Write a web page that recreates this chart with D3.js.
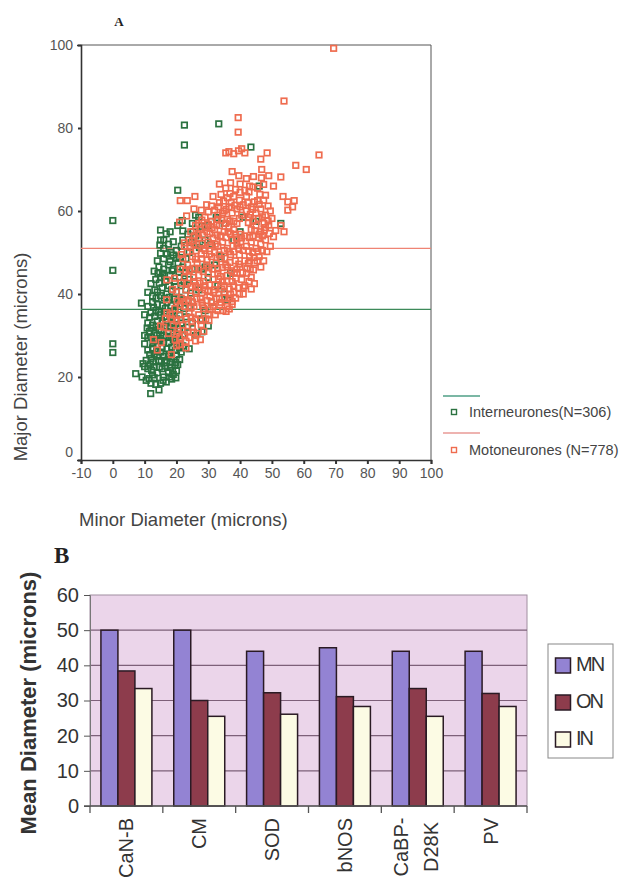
<!DOCTYPE html>
<html>
<head>
<meta charset="utf-8">
<style>
  body { margin: 0; background: #fff; }
  text { font-family: Arial, "Liberation Sans", sans-serif; }
</style>
</head>
<body>
<svg id="chart" width="624" height="879"></svg>
<script src="https://d3js.org/d3.v7.min.js"></script>
<script>
// ---------- panel A : [minor, major] diameter (microns)
var interneurones = [
  [0,57.7],[0,45.7],[0,28],[0,25.9],
  [22.5,80.7],[22.5,75.9],[33.3,81],[43.4,75.4],[46,66],[20.4,65],[52.8,57],[32.5,58.4],[26,59],[27,58.5],
  [11.9,16],[7.2,20.8],[9.2,20],[9.5,23.2],[10,30],[9,37.8],[11,40.4],
  [15,55.4],[16,53],[15,49.8],[19,49.4],[21.8,57.7],[20.4,56.5],[22,55.2],[26,54],[28,56.3],[30,56.5],
  [24,26.8],[30,32.3],[28,30.9],[28,46],[29,46.5],
  [12,18.5],[13.5,18.2],[15,18.5],[12.5,20.5],[14,21],[16,20],[17.5,21],[19,20.6],[20,21.5],[11,22],
  [13,22.5],[15.5,22],[18,22.3],[19.5,22.8],[10.5,19.2],[16.8,18.8],[18.5,19.5],[14.5,16.9],
  [10.5,24],[12,24.5],[13,25.5],[14.5,24],[16,25],[17,23.5],[18.5,24.5],[20,25.3],[21.5,26],[11,26.5],
  [12.5,27],[14,27.5],[15.5,27],[17,26.8],[18.5,27.2],[20,28],[22,27.5],[10,28],[13,28.7],[16,28.3],
  [19,29],[11.8,23],[15.2,23.8],[19.8,23.5],[21,24.2],[13.8,26.2],[17.8,25.5],
  [11.5,31],[13,30.5],[14.5,31.5],[16,30],[17.5,31],[19,30.5],[20.5,31.5],[22,30],[11,33],[12.5,32.5],
  [14,33.5],[15.5,33],[17,34],[18.5,33],[20,34],[21.5,33],[23,34.5],[10,35],[12,35.5],[13.5,36],
  [15,35],[16.5,36.5],[18,35.5],[19.5,36],[21,35],[22.5,36.5],[24,37],[11,37],[12.5,38],[14,37.5],
  [17,38],[20,37.5],[25,38],[12.2,29.6],[15,29.3],[18.2,29.8],[21.3,29],[23.5,32],[10.8,31.8],[13.2,34.6],
  [16.4,32.2],[19.2,31.8],
  [12.5,39.5],[14,40.5],[15.5,41.5],[17,40],[18.5,41],[20,40.5],[21.5,42],[23,41],[12,42.5],[13.5,43.5],
  [15,44],[16.5,43],[18,44.5],[19.5,43],[21,44],[22.5,45],[24,43.5],[13,45.5],[14.5,46.5],[16,46],
  [17.5,47],[19,46],[20.5,47.5],[22,46.5],[25,46],[14,48],[16,48.5],[18,47.8],[13.2,41],[16.2,39],
  [19.2,38.8],[24.5,40.2],[15.6,45],[20.8,45.2],
  [16,51],[17.5,52],[15,53],[20,50.5],[21.5,51.5],[22,53],[26.5,52],[24,50],[23,48.5],[25,57],
  [29,53],[18.2,50],[16.8,54.5],[14.8,51.8],[21,48.8],[25.2,55],[27.2,51.2],
  [27,41],[30,44],[33,42],[35,40],[31,38],[29,36],[25,33],[28,34],[32,47],[38,53],
  [40,55],[37,45],[26,30],[34,49],[36,38.5],[31,52],[35,57],[41,58.5],[45,57.5],
  [11.4,19.6],[13,19.8],[15.8,19.2],[17.8,20],[19.8,19.8],[12.2,21.6],[14.6,22.4],[16.6,22.6],[18.8,21.6],[10,22.5],
  [12.6,23.6],[14,25],[16.4,24],[18,23.6],[20.4,23],[11.6,25.4],[15,26],[17.4,25],[19.6,26.4],[12.6,28],
  [14.6,28.8],[17.6,28.2],[21,27],[11,29.5],[13.8,30],[16.8,29.6],[19.8,28.6],[12,31.8],[15.2,31.2],[18,32],
  [21,31.6],[13.6,32.2],[16.2,34.6],[18.6,34.6],[11.6,34.4],[14.4,35.6],[20.6,36.2],[12.8,36.8],[15.6,37.2],[18.4,37.2],
  [22,38.6],[13.6,39],[15,39.6],[17.8,39.2],[20.8,39.2],[14.6,42.6],[17.6,42],[19.8,41.8],[22.4,43],[16.2,44.4],
  [18.6,45.6],[14.2,45],[20,48.6],[17,49.6],[19,52.6],[18,55],[23.6,54.4],[24.8,52.4]
];
var motoneurones = [
  [69.4,99.2],[53.8,86.5],[39.4,82.5],[39.4,79],[35.5,74],[36.5,74.3],[38,73.8],[39.5,74.5],[40.5,75],[41.5,74],
  [48.5,74],[64.8,73.5],[46.5,72.5],[57.5,71],[60.8,70],[46.8,70],[37.5,69.5],[39.6,68.5],[42,67.8],[44.2,68.3],
  [46.7,68],[49,68.5],[52.8,68.2],[33.5,66.5],[35.5,65.5],[40,66.5],[43,66],[50.5,66],[21.2,62.5],[23.4,62.5],
  [25.8,63.5],[33.5,62],[36,63.2],[38,63.5],[39.8,62.6],[42,63.5],[44.5,62.2],[53.5,63.5],[55,62.2],[57,62.5],
  [56.5,61],[55,60.2],[35,60],[50,58.2],[52.8,56.5],[53.8,55],[51.2,55.3],[50.5,53.8],
  [40,64.5],[41.5,65],[37,66.8],[45.5,65.5],[48,63.8],[34,64],
  [27,57],[29,58.5],[31,57.5],[33,58],[34.5,59.5],[36,58],[37.5,59.5],[39,60.5],[40.5,59],[42,60],
  [43.5,61],[45,59.5],[46.5,60.5],[48,59],[44,57.5],[47.5,57],[36.5,61],[41,61.5],[45.5,62.5],[38,57.5],
  [32,60.2],[30,59.8],[35.5,57],[42.8,58.4],[48.8,61.2],
  [24.5,55],[26,56.5],[27.5,55.5],[29,56],[30.5,54.5],[32,55.5],[33.5,56.5],[35,55],[36.5,56],[38,55.5],
  [39,57],[43.5,55.5],[45,56.5],[46.5,55],[48,56],[31,57.5],[34,54],[37,54.5],[44,54],[47,54],
  [28.2,54.2],[25.6,54],[40.2,54.4],[49.2,54.6],[42.6,57.2],
  [22.5,51.5],[24,53],[25.5,52],[27,53.5],[28.5,51],[30,52.5],[31.5,53.5],[33,51.5],[34.5,52.5],[36,51],
  [37.5,53],[39,52],[40.5,53.5],[42,51.5],[43.5,52.5],[45,51],[46.5,52],[48,53],[49.5,51.5],[29,50.5],
  [32,50],[35,50.5],[38,50.2],[41,50.5],[44,50],[47,50.5],[26.2,50.4],[23.4,50.2],[33.8,53.8],[38.8,53.6],
  [45.8,53.6],
  [22,48.5],[23.5,47],[25,49],[26.5,47.5],[28,48.5],[29.5,47],[31,49],[32.5,47.5],[34,48.5],[35.5,47],
  [37,49.5],[38.5,48],[40,46.5],[41.5,48],[43,49],[44.5,47.5],[46,49],[46.5,46.5],[27,46],[33,46],
  [36,46.5],[39,46],[30.2,46.4],[42.2,46.2],[39.8,49.4],[24.2,45.9],
  [22.5,44],[24,45.5],[25.5,43],[27,44.5],[28.5,43],[30,45],[31.5,43.5],[33,45],[34.5,43],[36,44.5],
  [37.5,43],[39,45],[40.5,43.5],[42,45],[43.5,44],[44.5,42.5],[26,42],[29,42],[35,42],[38,42],
  [41.5,42],[32.2,42.2],[23.6,42.6],[37.2,45.6],[43.2,46],
  [20,40.5],[21.5,39],[23,41],[24.5,39.5],[26,40.5],[27.5,39],[29,41],[30.5,39.5],[32,41],[33.5,39],
  [35,40.5],[36.5,39],[38,40.5],[39.5,41.5],[41,40],[37.5,38.2],[34,38],[31,38],[28,38],[25,38],
  [22.4,38.2],[30,40.6],[36.6,41.2],[26.8,41.6],
  [18,35],[19.5,36.5],[21,35],[22.5,37],[24,35.5],[25.5,37],[27,35],[28.5,36.5],[30,35.2],[31.5,37],
  [33,36],[34.5,36],[36,37],[37.5,37.5],[26,34],[23,34],[20,33.5],[29.2,34],[32.2,35],[35.6,35.8],
  [16,32],[17.5,30.5],[19,32.5],[20.5,31],[22,32.5],[23.5,31],[25,32],[26.5,30.5],[27.5,29],[26,28.7],
  [21,29.5],[17,35.5],[16.5,34],[24,29.5],[12.8,29],[15.2,28.3],[20,27.5],[15,32.3],[18.4,25.4],[20,30.4],
  [20.9,27.8],[27.8,32.6],[24.8,33.4],
  [16.9,38.6],[17,43.4],[20.2,38.3],[19.4,43.8],[18.8,41.1],[21.2,46],[22.5,52.3],[21,57.3],[14,26.5],[23,27],
  [21.5,49.5],[23.2,58.8],[25.5,60.5],[29.5,61.5],[31.5,63.5],[27.8,60.2],
  [36.8,64.2],[38.6,65.2],[42.8,64.6],[44,65.8],[46.2,64],[47.4,66.4],
  [33.2,61],[34.8,62.4],[37.2,62],[38.4,61.4],[40,61],[42.4,62],[44,60.4],[46,61.6],[47.4,62.6],[49.5,60],
  [31,61.2],[35.6,60.4],
  [28,57.8],[30,56.8],[32.6,56.6],[34.2,57.8],[36.8,57.6],[39.8,58.2],[45.8,58.2],[47,58.6],[48.8,57.6],[43.2,59.2],
  [33,59],
  [26.8,54.6],[29.6,55],[31.2,56],[32.8,54.2],[35.6,53.6],[36.2,55],[38.4,54.4],[41.5,54],[43,53.6],[44.6,55.2],
  [46,54.4],[47.6,55.4],[49,56.6],[25,52.8],[28,52.2],[30.8,51.8],
  [24.4,51.2],[27.8,49.6],[30.4,49.6],[33.4,49.4],[36.6,50.2],[39.6,51],[42.6,50.4],[45.6,50.2],[48.4,50.2],[26,48.4],
  [35.2,48.6],[44.4,48.8],[47.4,48],[29.6,48.2],[32.2,52],[37.8,51.6],[40.2,52.6],[43,48],
  [23,45.6],[25.8,46.2],[28.4,45.4],[31.4,46],[34.4,46.4],[36.8,47.6],[38.2,45.2],[40.8,45.2],[42.6,47.4],[44.2,45.8],
  [45.4,48],[33.8,44.2],[39.6,47.2],
  [21.4,42.6],[24.6,41.8],[27.4,42.6],[30.4,42.2],[33.2,43.6],[35.8,43],[38.6,43.8],[41,41.6],[42.8,43],[28,40.2],
  [31.6,40.4],[34.2,41.2],[37,40],[39.8,40],[43.5,41.2],[25.4,44],
  [21.2,37.4],[23.8,38.6],[26.4,38.8],[29.6,38.4],[32.6,38.8],[35.2,39],[38.6,39],[28.2,37.2],[33.6,37.4],[36.6,36.4],
  [24.6,36.6],[30.6,36.2],
  [18.6,34],[21.4,33.8],[24.6,34.4],[27.6,33.6],[22.6,30.2],[25.4,30.8],[28.6,31],[19.6,29],[23,28.6],[30.2,33.6]
];
var meanMajor = [36.3, 51.0];   // interneurones, motoneurones
var legendA = ["Interneurones(N=306)", "Motoneurones (N=778)"];
var xTicksA = [-10, 0, 10, 20, 30, 40, 50, 60, 70, 80, 90, 100];
var yTicksA = [0, 20, 40, 60, 80, 100];

// ---------- panel B : mean diameter per marker
var markers = ["CaN-B", "CM", "SOD", "bNOS", "CaBP-|D28K", "PV"];
var seriesB = ["MN", "ON", "IN"];
var mnMeans = [50, 50, 44, 45, 44, 44];
var onMeans = [38.4, 30, 32.2, 31.1, 33.4, 32];
var inMeans = [33.4, 25.5, 26.1, 28.3, 25.5, 28.3];
var yTicksB = [0, 10, 20, 30, 40, 50, 60];

var green = "#2b7240", red = "#ef6c4f";
var svg = d3.select("#chart");

// ================= panel A =================
var xA = d3.scaleLinear().domain([-10, 100]).range([81, 431]);
var yA = d3.scaleLinear().domain([0, 100]).range([460, 45]);

svg.append("text").attr("x", 119).attr("y", 26).attr("text-anchor", "middle")
  .style("font-family", "'Liberation Serif', serif").style("font-weight", "bold")
  .style("font-size", "13px").attr("fill", "#222").text("A");

// frame
svg.append("path")
  .attr("d", "M" + xA(-10) + "," + yA(100) + "H" + xA(100) + "V" + yA(0))
  .attr("fill", "none").attr("stroke", "#555").attr("stroke-width", 1);

var axA = svg.append("g").attr("transform", "translate(0," + yA(0) + ")")
  .call(d3.axisBottom(xA).tickValues(xTicksA).tickSize(4).tickPadding(4)
    .tickFormat(function (d) { return String(d); }));
var ayA = svg.append("g").attr("transform", "translate(" + xA(-10) + ",0)")
  .call(d3.axisLeft(yA).tickValues(yTicksA).tickSize(4).tickPadding(4)
    .tickFormat(function (d) { return String(d); }));
[axA, ayA].forEach(function (g) {
  g.select(".domain").attr("stroke", "#333").attr("stroke-width", 1.6);
  g.selectAll(".tick line").attr("stroke", "#333").attr("stroke-width", 2);
  g.selectAll(".tick text").attr("fill", "#555").style("font-size", "14px")
    .style("font-family", "Arial, 'Liberation Sans', sans-serif");
});
ayA.selectAll(".tick line").attr("x2", -3);
// the zero label sits a little above the corner
ayA.selectAll(".tick text").filter(function (d) { return d === 0; }).attr("dy", "-0.25em");

// mean lines
svg.append("line").attr("x1", xA(-10)).attr("x2", xA(100))
  .attr("y1", yA(meanMajor[1])).attr("y2", yA(meanMajor[1]))
  .attr("stroke", "#ef8474").attr("stroke-width", 1.2);
svg.append("line").attr("x1", xA(-10)).attr("x2", xA(100))
  .attr("y1", yA(meanMajor[0])).attr("y2", yA(meanMajor[0]))
  .attr("stroke", "#3d8a5a").attr("stroke-width", 1.4);

// points
function drawPoints(data, colour) {
  svg.append("g").selectAll("rect").data(data).enter().append("rect")
    .attr("x", function (d) { return xA(d[0]) - 2.75; })
    .attr("y", function (d) { return yA(d[1]) - 2.75; })
    .attr("width", 5.5).attr("height", 5.5)
    .attr("fill", "none").attr("stroke", colour).attr("stroke-width", 1.7);
}
drawPoints(interneurones, green);
drawPoints(motoneurones, red);

// axis titles
svg.append("text").attr("transform", "translate(27,357) rotate(-90)")
  .attr("text-anchor", "middle").style("font-size", "18.5px").attr("fill", "#444")
  .text("Major Diameter (microns)");
svg.append("text").attr("x", 79).attr("y", 526)
  .style("font-size", "18.5px").attr("fill", "#444").text("Minor Diameter (microns)");

// legend A
var legA = svg.append("g");
[[green, "#4f9f86", 396, 412], [red, "#e99a96", 433, 450]].forEach(function (r, i) {
  legA.append("line").attr("x1", 443).attr("x2", 480).attr("y1", r[2]).attr("y2", r[2])
    .attr("stroke", r[1]).attr("stroke-width", 1.5);
  legA.append("rect").attr("x", 451.5).attr("y", r[3] - 2.5).attr("width", 5).attr("height", 5)
    .attr("fill", "none").attr("stroke", r[0]).attr("stroke-width", 1.4);
  legA.append("text").attr("x", 469).attr("y", r[3] + 5).style("font-size", "14.5px")
    .attr("fill", "#444").text(legendA[i]);
});

// ================= panel B =================
var yB = d3.scaleLinear().domain([0, 60]).range([806, 595]);
var x0 = d3.scaleBand().domain(markers).range([90, 527]).paddingInner(0.3).paddingOuter(0.15);
var x1 = d3.scaleBand().domain(seriesB).range([0, x0.bandwidth()]);
var barColour = { MN: "#9383d3", ON: "#8d3c4c", IN: "#fcfbe4" };
var valuesB = { MN: mnMeans, ON: onMeans, IN: inMeans };

svg.append("text").attr("x", 54).attr("y", 563)
  .style("font-family", "'Liberation Serif', serif").style("font-weight", "bold")
  .style("font-size", "23px").attr("fill", "#222").text("B");

svg.append("rect").attr("x", 90).attr("y", yB(60)).attr("width", 437).attr("height", yB(0) - yB(60))
  .attr("fill", "#ebd5ea").attr("stroke", "#a08ea0").attr("stroke-width", 1);

svg.append("g").selectAll("line").data(yTicksB.filter(function (t) { return t > 0 && t < 60; }))
  .enter().append("line")
  .attr("x1", 90).attr("x2", 527)
  .attr("y1", function (d) { return yB(d); }).attr("y2", function (d) { return yB(d); })
  .attr("stroke", "#7d6079").attr("stroke-width", 1.2);

var groups = svg.append("g").selectAll("g").data(markers).enter().append("g")
  .attr("transform", function (d) { return "translate(" + x0(d) + ",0)"; });
groups.selectAll("rect")
  .data(function (d, i) { return seriesB.map(function (k) { return { key: k, value: valuesB[k][i] }; }); })
  .enter().append("rect")
  .attr("x", function (d) { return x1(d.key); })
  .attr("y", function (d) { return yB(d.value); })
  .attr("width", x1.bandwidth())
  .attr("height", function (d) { return yB(0) - yB(d.value); })
  .attr("fill", function (d) { return barColour[d.key]; })
  .attr("stroke", "#2a1a24").attr("stroke-width", 1.5);

var ayB = svg.append("g").attr("transform", "translate(90,0)")
  .call(d3.axisLeft(yB).tickValues(yTicksB).tickSize(6).tickPadding(5));
ayB.select(".domain").attr("stroke", "#777");
ayB.selectAll(".tick line").attr("stroke", "#555");
ayB.selectAll(".tick text").attr("fill", "#333").style("font-size", "20px")
  .style("font-family", "Arial, 'Liberation Sans', sans-serif");

// category axis: baseline + ticks between categories
var step = x0.step();
var bounds = markers.map(function (m) { return x0(m) - step * x0.paddingOuter(); }).concat([527]);
svg.append("line").attr("x1", 84).attr("x2", 527).attr("y1", yB(0)).attr("y2", yB(0))
  .attr("stroke", "#555").attr("stroke-width", 1.3);
svg.append("g").selectAll("line").data(bounds).enter().append("line")
  .attr("x1", function (d) { return d; }).attr("x2", function (d) { return d; })
  .attr("y1", yB(0)).attr("y2", yB(0) + 7).attr("stroke", "#555").attr("stroke-width", 1.3);

markers.forEach(function (m) {
  var lines = m.split("|");
  var cx = x0(m) + x0.bandwidth() / 2;
  var t;
  if (lines.length === 1) {
    t = svg.append("text").attr("transform", "translate(" + cx + ",818) rotate(-90)")
      .attr("text-anchor", "end").attr("dy", "0.35em");
    t.text(m);
  } else {
    t = svg.append("text").attr("transform", "translate(" + (cx - 1) + ",847) rotate(-90)")
      .attr("text-anchor", "middle");
    lines.forEach(function (s, i) {
      t.append("tspan").attr("x", 0).attr("y", i === 0 ? -16 : 14).attr("dy", "0.35em").text(s);
    });
  }
  t.style("font-size", "20px").attr("fill", "#333");
});

svg.append("text").attr("transform", "translate(36,703) rotate(-90)")
  .attr("text-anchor", "middle").style("font-size", "22px").style("font-weight", "bold")
  .attr("fill", "#333").text("Mean Diameter (microns)");

// legend B
var legB = svg.append("g");
legB.append("rect").attr("x", 548).attr("y", 644).attr("width", 65).attr("height", 114)
  .attr("fill", "#fff").attr("stroke", "#888").attr("stroke-width", 1);
seriesB.forEach(function (k, i) {
  var yy = 658 + i * 37;
  legB.append("rect").attr("x", 555.5).attr("y", yy).attr("width", 15).attr("height", 15)
    .attr("fill", barColour[k]).attr("stroke", "#2a1a24").attr("stroke-width", 1.5);
  legB.append("text").attr("x", 576).attr("y", yy + 13).style("font-size", "20px")
    .style("letter-spacing", "-2px").attr("fill", "#333").text(k);
});
</script>
</body>
</html>
